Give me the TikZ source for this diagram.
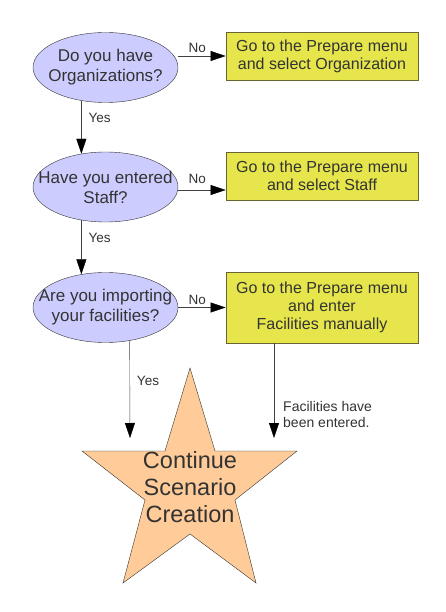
\documentclass[tikz,border=0pt]{standalone}
\usepackage{fontspec}
\setmainfont{Liberation Sans}
\usepackage{xcolor}
\usetikzlibrary{shapes.geometric}
\usetikzlibrary{arrows.meta}
\definecolor{askfill}{HTML}{CCCCFF}
\definecolor{dofill}{HTML}{E6E64C}
\definecolor{doline}{HTML}{666633}
\definecolor{starfill}{HTML}{FFCC99}
\definecolor{ink}{HTML}{333333}

\begin{document}
\begin{tikzpicture}[x=1pt, y=-1pt,
        question/.style={ellipse, draw=ink, fill=askfill, minimum width=145pt, minimum height=70pt, inner sep=0pt},
        asktext/.style={text=ink, align=center, font=\fontsize{17}{20}\selectfont},
        action/.style={draw=doline, fill=dofill, thick, minimum width=192pt, minimum height=48pt, text=ink, align=center, font=\fontsize{16}{18}\selectfont},
        flow/.style={draw=black!75, -{Triangle[length=15pt, width=10pt, color=black]}},
        tag/.style={text=ink, inner sep=3pt, font=\fontsize{13.5}{16}\selectfont}]
            \useasboundingbox (0,0) rectangle (446,612);
            % questions on the left
            \node [question] (q1) at (105.5, 67.5) {};
            \node [asktext] at (q1) {Do you have\\Organizations?};
            \node [question] (q2) at (105.5, 187) {};
            \node [asktext] at (q2) {Have you entered\\Staff?};
            \node [question] (q3) at (105.5, 307.5) {};
            \node [asktext] at (q3) {Are you importing\\your facilities?};
            % what to do on a No
            \node [action] (a1) at (322, 56) {Go to the Prepare menu\\and select Organization};
            \node [action] (a2) at (322, 176) {Go to the Prepare menu\\and select Staff};
            \node [action, minimum height=71pt] (a3) at (322, 307.5) {Go to the Prepare menu\\and enter\\Facilities manually};
            % goal
            \draw [ink, fill=starfill] (190, 368) -- (215, 451) -- (297, 451) -- (235, 500) -- (256, 583) -- (190, 534)
                -- (123, 583) -- (145, 500) -- (82, 451) -- (165, 451) -- cycle;
            \node [text=ink, align=center, font=\fontsize{23.5}{27}\selectfont] (goal) at (190, 487) {Continue\\Scenario\\Creation};
            \coordinate (s1) at (130, 438);
            \coordinate (s2) at (274, 438);
            \draw [flow] (a1.west -| q1.east) -- node [tag, above, pos=0.4] {No} (a1.west);
            \draw [flow] ([yshift=-3pt]q2.east) -- node [tag, above, pos=0.4, yshift=3pt] {No} ([yshift=-3pt]q2.east -| a2.west);
            \draw [flow] (q3.east) -- node [tag, above, pos=0.4] {No} (q3.east -| a3.west);
            \draw [flow] (q1.234) -- node [tag, right, pos=0.33, xshift=4pt] {Yes} (q2.126);
            \draw [flow] (q2.234) -- node [tag, right, pos=0.33, xshift=4pt] {Yes} (q3.126);
            \draw [flow] (q3.306) -- node [tag, right, pos=0.41, xshift=4pt] {Yes} (s1);
            \draw [flow] (a3.south -| s2) -- node [tag, right, pos=0.75, xshift=6pt, align=left, font=\fontsize{14}{16.7}\selectfont] {Facilities have\\been entered.} (s2);
        \end{tikzpicture}
\end{document}
